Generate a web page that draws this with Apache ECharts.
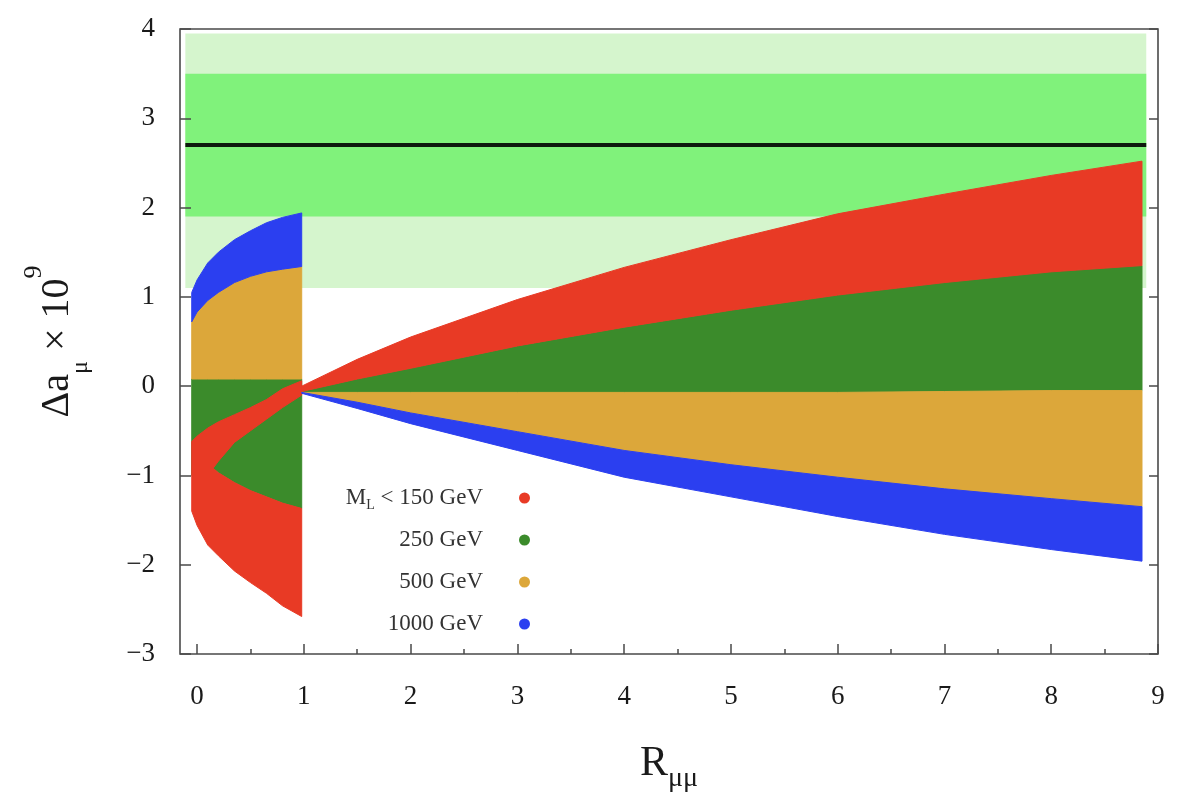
<!DOCTYPE html>
<html>
<head>
<meta charset="utf-8">
<script src="https://cdn.jsdelivr.net/npm/echarts@6/dist/echarts.min.js"></script>
<style>
  html, body { margin: 0; padding: 0; background: #fff; }
  #chart { width: 1195px; height: 798px; }
</style>
</head>
<body>
<div id="chart"></div>
<script>
// tick values
var xTicks = [0, 1, 2, 3, 4, 5, 6, 7, 8, 9];
var xHalfTicks = [0.5, 1.5, 2.5, 3.5, 4.5, 5.5, 6.5, 7.5, 8.5];

// experimental bands (1 and 2 sigma) and central value
var bandX = [-0.11, 8.89];
var band2s = [1.1, 3.95];
var band1s = [1.9, 3.5];
var centralY = 2.7;

// R > 1 branch, boundaries
var xHi = [0.98, 1.5, 2, 3, 4, 5, 6, 7, 8, 8.85];
var hiRedTop = [0.0, 0.3, 0.55, 0.97, 1.33, 1.64, 1.93, 2.15, 2.36, 2.52];
var hiGreenTop = [-0.06, 0.08, 0.2, 0.45, 0.66, 0.85, 1.02, 1.16, 1.28, 1.35];
var hiGreenBottom = [-0.07, -0.07, -0.07, -0.07, -0.07, -0.07, -0.07, -0.06, -0.05, -0.05];
var hiBlueTop = [-0.07, -0.18, -0.3, -0.51, -0.72, -0.88, -1.02, -1.15, -1.26, -1.35];
var hiBlueBottom = [-0.08, -0.25, -0.42, -0.72, -1.02, -1.24, -1.46, -1.66, -1.83, -1.96];

// R < 1 branch
var xLo = [-0.05, 0, 0.1, 0.2, 0.35, 0.5, 0.65, 0.8, 0.98];
var loBlueTop = [1.05, 1.19, 1.38, 1.5, 1.64, 1.74, 1.83, 1.89, 1.94];
var loOrangeTop = [0.72, 0.83, 0.96, 1.05, 1.16, 1.23, 1.28, 1.31, 1.34];
var loOrangeBottom = [0.08, 0.08, 0.08, 0.08, 0.08, 0.08, 0.08, 0.08, 0.08];
var loRedUpper = [-0.62, -0.56, -0.47, -0.4, -0.32, -0.24, -0.15, -0.03, 0.06];
var loRedLower = [-1.4, -1.56, -1.78, -1.9, -2.07, -2.2, -2.32, -2.46, -2.58];
var xInner = [0.15, 0.2, 0.35, 0.5, 0.65, 0.8, 0.98];
var innerUpper = [-0.92, -0.84, -0.63, -0.5, -0.37, -0.24, -0.1];
var innerLower = [-0.92, -0.97, -1.08, -1.17, -1.24, -1.31, -1.37];

var names = ['M_L < 150 GeV', '250 GeV', '500 GeV', '1000 GeV'];
var colors = {red: '#e83a25', green: '#3b8b2b', orange: '#dca73a', blue: '#2b3ff0'};
var serif = '"Liberation Serif", "DejaVu Serif", serif';
var ink = '#1a1a1a';
var frame = '#4a4a4a';

function pts(xs, ys) {
  return xs.map(function (x, i) { return [x, ys[i]]; });
}
// area between two curves sampled on the same xs
function between(xs, lower, upper) {
  return pts(xs, upper).concat(pts(xs, lower).reverse());
}

var n = xLo.length;
var greenLo = [[xLo[0], loOrangeBottom[0]], [xLo[n - 1], loOrangeBottom[n - 1]]]
  .concat(pts(xInner, innerLower).reverse())
  .concat([[xLo[0], -1.0]]);
var redLo = pts(xLo, loRedUpper)
  .concat(pts(xInner, innerUpper).reverse())
  .concat(pts(xInner, innerLower).slice(1))
  .concat(pts(xLo, loRedLower).reverse());

var polys = {
  green: [greenLo, between(xHi, hiGreenBottom, hiGreenTop)],
  red: [redLo, between(xHi, hiGreenTop, hiRedTop)],
  orange: [between(xLo, loOrangeBottom, loOrangeTop), between(xHi, hiBlueTop, hiGreenBottom)],
  blue: [between(xLo, loOrangeTop, loBlueTop), between(xHi, hiBlueBottom, hiBlueTop)]
};

function regionSeries(name, key) {
  var list = polys[key];
  return {
    name: name,
    type: 'custom',
    coordinateSystem: 'cartesian2d',
    itemStyle: {color: colors[key]},
    data: list.map(function (p) { return p[0]; }),
    renderItem: function (params, api) {
      var p = list[params.dataIndex].map(function (v) { return api.coord(v); });
      return {
        type: 'polygon',
        shape: {points: p},
        style: {fill: colors[key], stroke: colors[key], lineWidth: 1}
      };
    }
  };
}

var bandRects = [
  {y: band2s, color: '#d5f5cd'},
  {y: band1s, color: '#80f27b'}
];

var tickStyle = {color: frame, width: 1.5};

var myChart = echarts.init(document.getElementById('chart'));
myChart.setOption({
  animation: false,
  backgroundColor: '#fff',
  grid: {
    left: 180, right: 37, top: 29, bottom: 142,
    show: true, borderColor: frame, borderWidth: 1.6, backgroundColor: 'transparent'
  },
  legend: {
    orient: 'vertical',
    align: 'right',
    right: 660,
    top: 479,
    itemGap: 14,
    itemWidth: 11,
    itemHeight: 11,
    selectedMode: false,
    data: [
      {name: names[0], icon: 'circle'},
      {name: names[1], icon: 'circle'},
      {name: names[2], icon: 'circle'},
      {name: names[3], icon: 'circle'}
    ],
    formatter: function (name) {
      if (name === names[0]) return '{t|M}{s|L}{t| < 150 GeV}';
      return '{t|' + name + '}';
    },
    textStyle: {
      padding: [0, 31, 0, 0],
      lineHeight: 28,
      height: 28,
      rich: {
        t: {fontFamily: serif, fontSize: 23, color: '#333', lineHeight: 28, height: 28},
        s: {fontFamily: serif, fontSize: 14, color: '#333', lineHeight: 14, verticalAlign: 'bottom'}
      }
    }
  },
  xAxis: [
    {
      type: 'value', min: -0.16, max: 9, position: 'bottom', z: 10,
      axisLine: {show: false, onZero: false}, splitLine: {show: false},
      axisTick: {inside: true, length: 10, customValues: xTicks, lineStyle: tickStyle},
      axisLabel: {customValues: xTicks, margin: 29, fontFamily: serif, fontSize: 27, color: ink},
      name: '{r|R}{s|μμ}',
      nameLocation: 'middle',
      nameGap: 89,
      nameTextStyle: {
        rich: {
          r: {fontFamily: serif, fontSize: 42, color: ink, lineHeight: 50, verticalAlign: 'top'},
          s: {fontFamily: serif, fontSize: 28, color: ink, lineHeight: 28, verticalAlign: 'bottom'}
        }
      }
    },
    {
      type: 'value', min: -0.16, max: 9, position: 'bottom', z: 10,
      axisLine: {show: false, onZero: false}, splitLine: {show: false},
      axisTick: {inside: true, length: 5, customValues: xHalfTicks, lineStyle: tickStyle},
      axisLabel: {show: false}
    }
  ],
  yAxis: [
    {
      type: 'value', min: -3, max: 4, interval: 1, position: 'left', z: 10,
      axisLine: {show: false, onZero: false}, splitLine: {show: false},
      axisTick: {inside: true, length: 11, lineStyle: tickStyle},
      axisLabel: {
        margin: 25, fontFamily: serif, fontSize: 27, color: ink,
        formatter: function (v) { return v < 0 ? '\u2212' + (-v) : String(v); }
      },
      name: '{d|Δa}{s|μ}{d| × 10}{p|9}',
      nameLocation: 'middle',
      nameRotate: 90,
      nameGap: 87,
      nameTextStyle: {
        rich: {
          d: {fontFamily: serif, fontSize: 40, color: ink, lineHeight: 72, verticalAlign: 'middle'},
          s: {fontFamily: serif, fontSize: 24, color: ink, lineHeight: 30, verticalAlign: 'bottom'},
          p: {fontFamily: serif, fontSize: 26, color: ink, lineHeight: 24, verticalAlign: 'top'}
        }
      }
    },
    {
      type: 'value', min: -3, max: 4, interval: 1, position: 'right', z: 10,
      axisLine: {show: false, onZero: false}, splitLine: {show: false},
      axisTick: {inside: true, length: 9, lineStyle: tickStyle},
      axisLabel: {show: false}
    }
  ],
  series: [
    {
      name: 'bands',
      type: 'custom',
      coordinateSystem: 'cartesian2d',
      silent: true,
      data: bandRects.map(function (b) { return [bandX[0], b.y[0]]; }),
      renderItem: function (params, api) {
        var b = bandRects[params.dataIndex];
        var p0 = api.coord([bandX[0], b.y[1]]);
        var p1 = api.coord([bandX[1], b.y[0]]);
        return {
          type: 'rect',
          shape: {x: p0[0], y: p0[1], width: p1[0] - p0[0], height: p1[1] - p0[1]},
          style: {fill: b.color}
        };
      }
    },
    {
      name: 'central',
      type: 'line',
      symbol: 'none',
      silent: true,
      lineStyle: {color: '#0d1a0d', width: 4},
      data: [[bandX[0], centralY], [bandX[1], centralY]]
    },
    regionSeries(names[1], 'green'),
    regionSeries(names[0], 'red'),
    regionSeries(names[2], 'orange'),
    regionSeries(names[3], 'blue')
  ]
});
</script>
</body>
</html>
